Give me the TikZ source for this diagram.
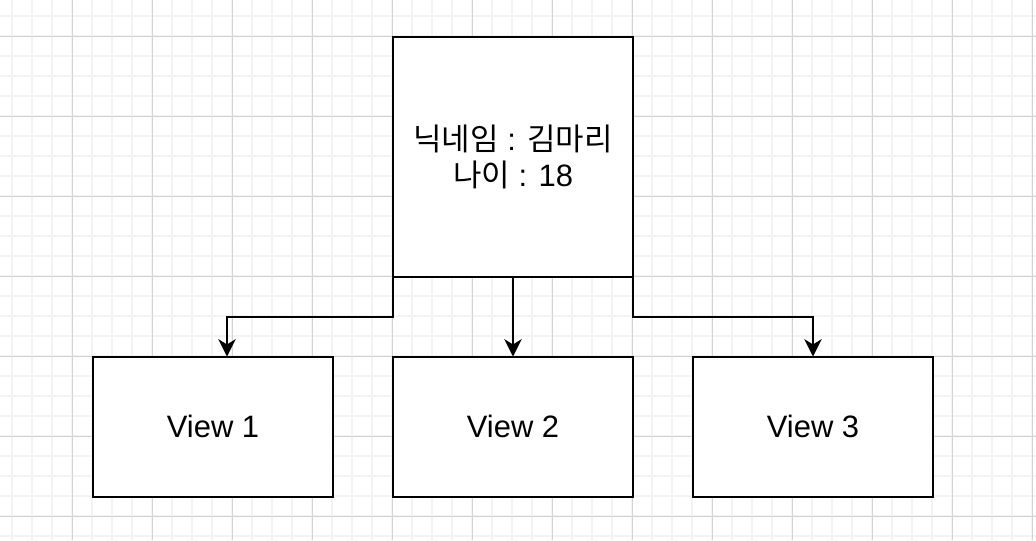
\documentclass[tikz,border=0pt]{standalone}
\usepackage{fontspec}
\setmainfont{Liberation Sans}
\newfontfamily\kr{Noto Sans CJK KR}
\usetikzlibrary{arrows.meta}
\definecolor{gridminor}{HTML}{F3F3F3}
\definecolor{gridmajor}{HTML}{D3D3D3}
\tikzset{
  box/.style={draw=black, line width=1.5pt, fill=white, inner sep=0pt, outer sep=0pt,
    align=center, font=\fontsize{23.2pt}{27pt}\selectfont},
  arr/.style={draw=black, line width=1.5pt, -{Stealth[length=13pt,width=13pt,inset=4pt]}},
}
\begin{document}
\begin{tikzpicture}[x=0.75pt,y=-0.75pt]
\useasboundingbox (0,0) rectangle (1036,540);
\fill[white] (0,0) rectangle (1036,540);
% grid
\foreach \x in {12,32,...,1032} \draw[gridminor, line width=1pt] (\x,0) -- (\x,540);
\foreach \y in {16,36,...,536} \draw[gridminor, line width=1pt] (0,\y) -- (1036,\y);
\foreach \x in {72,152,...,1032} \draw[gridmajor, line width=0.75pt] (\x,0) -- (\x,540);
\foreach \y in {36,116,...,536} \draw[gridmajor, line width=0.75pt] (0,\y) -- (1036,\y);
% nodes
\node[box, minimum width=180pt, minimum height=180pt] (top) at (513,156.5)
  {{\kr 닉네임} : {\kr 김마리}\\{\kr 나이} : 18};
\node[box, minimum width=180pt, minimum height=105pt] (v1) at (213,426.5) {View 1};
\node[box, minimum width=180pt, minimum height=105pt] (v2) at (513,426.5) {View 2};
\node[box, minimum width=180pt, minimum height=105pt] (v3) at (813,426.5) {View 3};
% connectors
\draw[arr] (top.south west) -- ++(0,40) -| ([xshift=10.5pt]v1.north);
\draw[arr] (top.south) -- (v2.north);
\draw[arr] (top.south east) -- ++(0,40) -| (v3.north);
\end{tikzpicture}
\end{document}
